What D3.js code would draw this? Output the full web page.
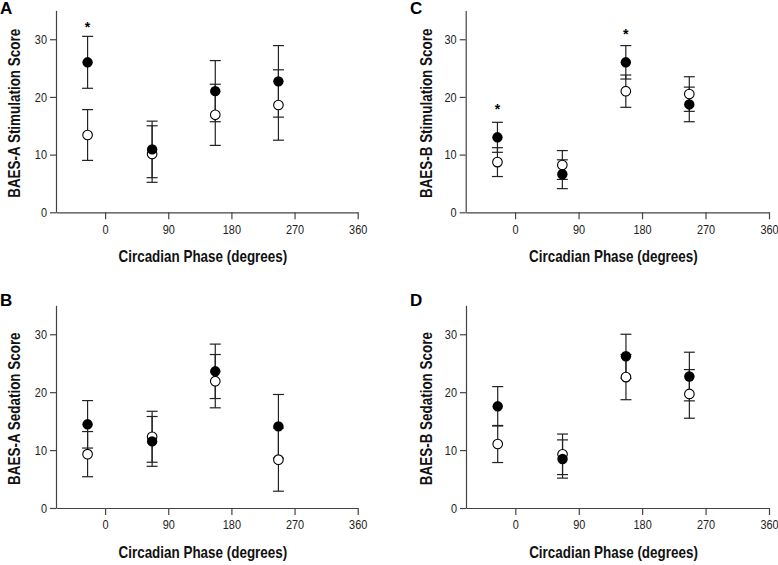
<!DOCTYPE html>
<html>
<head>
<meta charset="utf-8">
<script src="https://cdn.jsdelivr.net/npm/d3@7"></script>
<style>
  html, body { margin: 0; padding: 0; background: #fff; }
  svg { display: block; }
  .tick text { font-family: "Liberation Sans", Arial, sans-serif; font-size: 13px; fill: #222; }
  .lab { font-family: "Liberation Sans", Arial, sans-serif; font-weight: bold; font-size: 16px; fill: #111; }
  .letter { font-family: "Liberation Sans", Arial, sans-serif; font-weight: bold; font-size: 17px; fill: #000; }
</style>
</head>
<body>
<svg id="chart" width="778" height="565"></svg>
<script>
// ---- data ----
const phases = [-25, 67, 157, 247];
const xTicks = [0, 90, 180, 270, 360];
const yTicks = [0, 10, 20, 30];

const aFilled = [26.0, 10.9, 21.0, 22.7];
const aFilledErr = [4.5, 4.9, 5.3, 6.2];
const aOpen = [13.4, 10.1, 16.9, 18.6];
const aOpenErr = [4.4, 4.9, 5.3, 6.1];
const aStars = [{i: 0, v: 32.3}];

const bFilled = [14.45, 11.5, 23.6, 14.1];
const bFilledErr = [4.1, 4.3, 4.7, 5.5];
const bOpen = [9.3, 12.3, 21.9, 8.35];
const bOpenErr = [3.9, 4.4, 4.6, 5.45];
const bStars = [];

const cFilled = [13.0, 6.6, 26.0, 18.7];
const cFilledErr = [2.6, 2.5, 2.9, 3.0];
const cOpen = [8.7, 8.2, 21.0, 20.5];
const cOpenErr = [2.5, 2.5, 2.8, 3.0];
const cStars = [{i: 0, v: 18.1}, {i: 2, v: 31.1}];

const dFilled = [17.56, 8.46, 26.2, 22.7];
const dFilledErr = [3.4, 3.3, 3.8, 4.2];
const dOpen = [11.05, 9.27, 22.6, 19.7];
const dOpenErr = [3.2, 3.5, 3.9, 4.2];
const dStars = [];

const panels = [
  {letter: "A", ylab: "BAES-A Stimulation Score", filled: aFilled, fErr: aFilledErr, open: aOpen, oErr: aOpenErr, stars: aStars, x0: 56, x1: 357.7, y0: 212.3, y1: 10.4, lx: 0, ly: 14, ylx: 14},
  {letter: "B", ylab: "BAES-A Sedation Score", filled: bFilled, fErr: bFilledErr, open: bOpen, oErr: bOpenErr, stars: bStars, x0: 56, x1: 357.7, y0: 508, y1: 305.3, lx: 0, ly: 306, ylx: 14},
  {letter: "C", ylab: "BAES-B Stimulation Score", filled: cFilled, fErr: cFilledErr, open: cOpen, oErr: cOpenErr, stars: cStars, x0: 465.7, x1: 769, y0: 212.3, y1: 10.4, lx: 410, ly: 14, ylx: 426},
  {letter: "D", ylab: "BAES-B Sedation Score", filled: dFilled, fErr: dFilledErr, open: dOpen, oErr: dOpenErr, stars: dStars, x0: 466, x1: 769, y0: 508, y1: 305.3, lx: 410, ly: 306, ylx: 426}
];

const svg = d3.select("#chart");
const axisColor = "#444";
const narrow = 0.84;

panels.forEach(p => {
  const g = svg.append("g");
  const x = d3.scaleLinear().domain([-70, 360]).range([p.x0, p.x1]);
  const y = d3.scaleLinear().domain([0, 35]).range([p.y0, p.y1]);

  // x axis
  const xa = g.append("g").attr("transform", `translate(0,${p.y0})`)
    .call(d3.axisBottom(x).tickValues(xTicks).tickSize(7).tickPadding(5).tickSizeOuter(0));
  xa.select(".domain").attr("stroke", axisColor).attr("stroke-width", 1.2);
  xa.selectAll(".tick line").attr("stroke", axisColor).attr("stroke-width", 1.2);
  xa.selectAll(".tick text").attr("transform", `scale(${narrow},1)`);

  // y axis
  const ya = g.append("g").attr("transform", `translate(${p.x0},0)`)
    .call(d3.axisLeft(y).tickValues(yTicks).tickSize(6).tickPadding(3).tickSizeOuter(0));
  ya.select(".domain").attr("stroke", axisColor).attr("stroke-width", 1.2);
  ya.selectAll(".tick line").attr("stroke", axisColor).attr("stroke-width", 1.2);
  ya.selectAll(".tick text").attr("x", -9 / narrow).attr("transform", `scale(${narrow},1)`);

  // labels
  g.append("text").attr("class", "letter").attr("x", p.lx).attr("y", p.ly).text(p.letter);
  g.append("text").attr("class", "lab")
    .attr("transform", `translate(${p.ylx + 6},${(p.y0 + p.y1) / 2 + 2}) rotate(-90) scale(${narrow},1)`)
    .attr("text-anchor", "middle").text(p.ylab);
  g.append("text").attr("class", "lab")
    .attr("transform", `translate(${(p.x0 + p.x1) / 2 - 4},${p.y0 + 50}) scale(${narrow},1)`)
    .attr("text-anchor", "middle").text("Circadian Phase (degrees)");

  const cap = 5.5;
  const series = [
    {m: p.open, e: p.oErr},
    {m: p.filled, e: p.fErr}
  ];
  // error bars
  series.forEach(s => {
    phases.forEach((ph, i) => {
      const cx = x(ph), top = y(s.m[i] + s.e[i]), bot = y(s.m[i] - s.e[i]);
      g.append("line").attr("x1", cx).attr("x2", cx).attr("y1", top).attr("y2", bot)
        .attr("stroke", "#222").attr("stroke-width", 1.2);
      [top, bot].forEach(yy => g.append("line").attr("x1", cx - cap).attr("x2", cx + cap)
        .attr("y1", yy).attr("y2", yy).attr("stroke", "#222").attr("stroke-width", 1.2));
    });
  });
  // open circles
  g.selectAll(".open").data(p.open).enter().append("circle")
    .attr("cx", (d, i) => x(phases[i])).attr("cy", d => y(d)).attr("r", 4.8)
    .attr("fill", "#fff").attr("stroke", "#000").attr("stroke-width", 1.1);
  // filled circles
  g.selectAll(".filled").data(p.filled).enter().append("circle")
    .attr("cx", (d, i) => x(phases[i])).attr("cy", d => y(d)).attr("r", 5.2)
    .attr("fill", "#000");
  // stars
  p.stars.forEach(s => {
    g.append("text").attr("x", x(phases[s.i])).attr("y", y(s.v) + 6)
      .attr("text-anchor", "middle")
      .attr("font-family", "Liberation Sans, Arial, sans-serif").attr("font-weight", "bold")
      .attr("font-size", 14).text("*");
  });
});
</script>
</body>
</html>
